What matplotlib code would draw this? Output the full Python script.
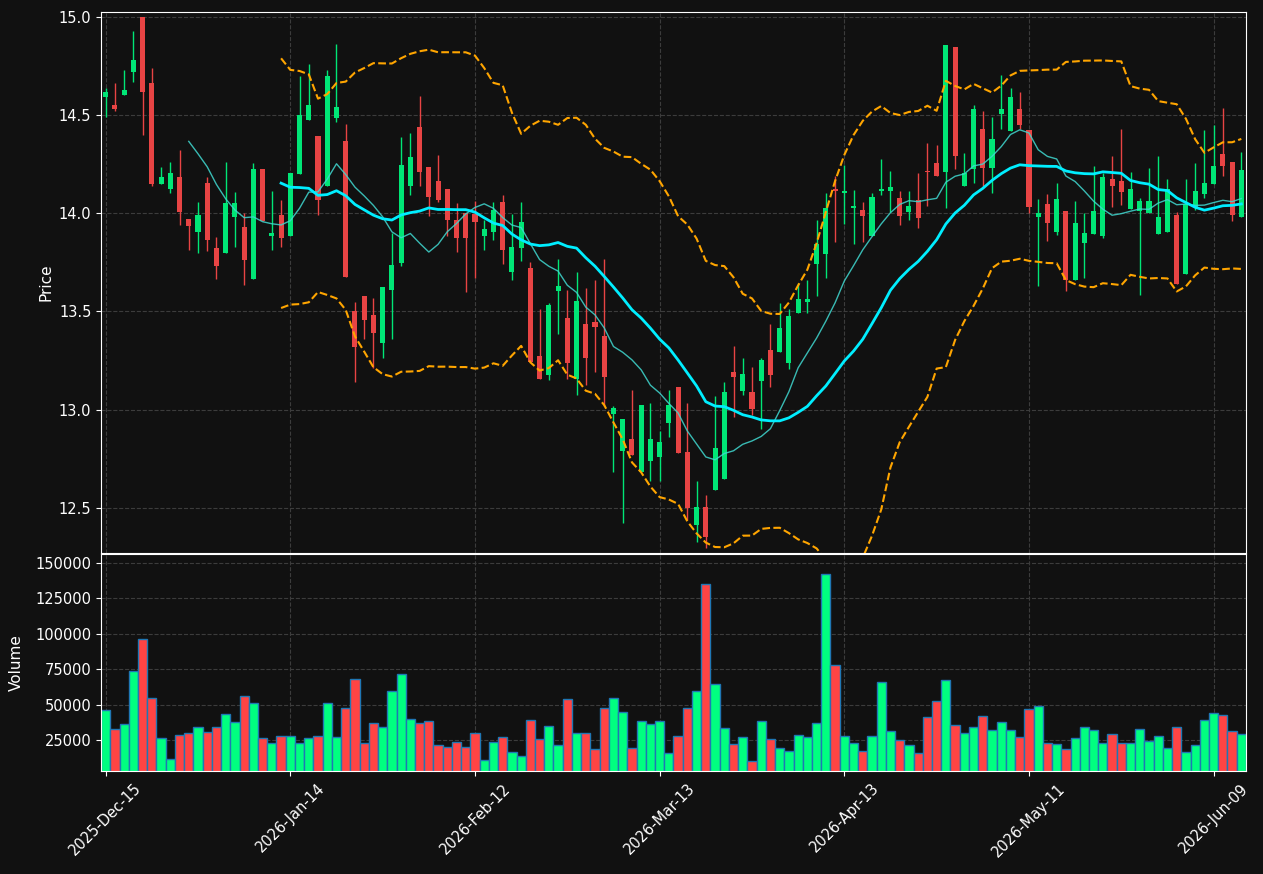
import matplotlib
matplotlib.use('Agg')
import matplotlib.pyplot as plt
import numpy as np
import pandas as pd

# daily bars (trading days from 2025-12-15)
opens = [14.59, 14.55, 14.60, 14.72, 15.00, 14.665, 14.15, 14.125, 14.185, 13.97,
         13.905, 14.155, 13.825, 13.80, 13.98, 13.93, 13.665, 14.225, 13.885, 13.99,
         13.885, 14.20, 14.475, 14.395, 14.14, 14.485, 14.37, 13.50, 13.58, 13.48,
         13.34, 13.61, 13.745, 14.14, 14.44, 14.235, 14.165, 14.125, 13.965, 14.00,
         13.995, 13.885, 13.905, 14.055, 13.70, 13.825, 13.72, 13.275, 13.175, 13.605,
         13.465, 13.155, 13.435, 13.445, 13.375, 12.98, 12.79, 12.85, 12.68, 12.74,
         12.76, 12.93, 13.115, 12.785, 12.415, 12.505, 12.59, 12.645, 13.19, 13.095,
         13.09, 13.145, 13.305, 13.295, 13.235, 13.49, 13.55, 13.74, 13.795, 14.125,
         14.105, 14.025, 14.015, 13.885, 14.115, 14.115, 14.08, 14.005, 14.065, 14.215,
         14.255, 14.21, 14.845, 14.14, 14.225, 14.43, 14.23, 14.505, 14.42, 14.53,
         14.425, 13.98, 14.045, 13.905, 14.01, 13.66, 13.85, 13.895, 13.885, 14.175,
         14.165, 14.02, 14.01, 14.00, 13.895, 13.905, 13.99, 13.69, 14.03, 14.10,
         14.15, 14.30, 14.26, 13.98]
highs = [14.64, 14.665, 14.73, 14.93, 15.00, 14.74, 14.235, 14.26, 14.32, 13.97,
         14.055, 14.185, 13.88, 14.26, 14.11, 14.00, 14.255, 14.225, 14.115, 14.065,
         14.205, 14.70, 14.76, 14.395, 14.73, 14.86, 14.455, 13.55, 13.58, 13.57,
         13.625, 13.90, 14.39, 14.41, 14.595, 14.235, 14.295, 14.125, 14.05, 14.00,
         14.06, 13.965, 14.055, 14.095, 13.995, 14.055, 13.75, 13.51, 13.545, 13.765,
         13.61, 13.70, 13.62, 13.66, 13.765, 13.02, 12.95, 13.10, 13.025, 13.035,
         12.89, 13.10, 13.115, 13.035, 12.635, 12.565, 13.07, 13.14, 13.325, 13.265,
         13.215, 13.265, 13.435, 13.545, 13.51, 13.645, 13.66, 13.965, 14.105, 14.19,
         14.245, 14.12, 14.055, 14.105, 14.275, 14.215, 14.115, 14.115, 14.205, 14.36,
         14.35, 14.855, 14.845, 14.305, 14.55, 14.52, 14.49, 14.705, 14.64, 14.62,
         14.425, 14.075, 14.10, 14.155, 14.01, 14.06, 14.00, 14.24, 14.205, 14.29,
         14.43, 14.21, 14.08, 14.23, 14.29, 14.175, 14.005, 14.175, 14.255, 14.425,
         14.45, 14.535, 14.26, 14.31]
lows = [14.49, 14.52, 14.60, 14.67, 14.40, 14.14, 14.15, 14.105, 13.94, 13.815,
        13.80, 13.81, 13.665, 13.80, 13.83, 13.635, 13.665, 13.96, 13.815, 13.83,
        13.885, 14.20, 14.475, 13.99, 14.14, 14.465, 13.675, 13.14, 13.36, 13.21,
        13.265, 13.36, 13.73, 14.095, 14.14, 13.985, 14.055, 13.885, 13.805, 13.60,
        13.67, 13.815, 13.865, 13.74, 13.66, 13.755, 13.245, 13.155, 13.15, 13.385,
        13.155, 13.075, 13.125, 13.19, 13.02, 12.68, 12.425, 12.77, 12.68, 12.635,
        12.635, 12.86, 12.78, 12.44, 12.325, 12.295, 12.59, 12.645, 12.96, 13.075,
        12.975, 12.90, 13.115, 13.295, 13.205, 13.49, 13.49, 13.58, 13.67, 13.855,
        13.945, 13.845, 13.855, 13.885, 14.095, 14.005, 13.94, 13.965, 13.925, 14.035,
        14.19, 14.025, 14.225, 14.14, 14.155, 14.135, 14.105, 14.43, 14.42, 14.43,
        14.00, 13.63, 13.86, 13.89, 13.605, 13.66, 13.67, 13.895, 13.875, 14.03,
        14.04, 14.02, 13.585, 14.00, 13.895, 13.905, 13.64, 13.69, 14.015, 14.08,
        14.15, 14.19, 13.96, 13.98]
closes = [14.62, 14.53, 14.63, 14.78, 14.62, 14.15, 14.185, 14.205, 14.005, 13.935,
          13.99, 13.865, 13.73, 14.05, 14.05, 13.76, 14.225, 13.96, 13.90, 13.875,
          14.205, 14.50, 14.55, 14.065, 14.70, 14.54, 13.675, 13.32, 13.455, 13.39,
          13.625, 13.735, 14.245, 14.285, 14.21, 14.085, 14.065, 13.965, 13.875, 13.875,
          13.955, 13.92, 14.015, 13.815, 13.83, 13.955, 13.245, 13.155, 13.535, 13.63,
          13.235, 13.555, 13.265, 13.42, 13.165, 13.01, 12.95, 12.77, 13.025, 12.85,
          12.835, 13.025, 12.78, 12.50, 12.505, 12.35, 12.805, 13.09, 13.165, 13.18,
          13.005, 13.255, 13.175, 13.415, 13.475, 13.565, 13.565, 13.845, 14.025, 14.115,
          14.115, 14.035, 13.985, 14.085, 14.125, 14.135, 13.985, 14.035, 13.975, 14.21,
          14.19, 14.855, 14.29, 14.205, 14.53, 14.23, 14.38, 14.53, 14.59, 14.45,
          14.03, 14.00, 13.95, 14.075, 13.66, 13.95, 13.90, 14.01, 14.185, 14.14,
          14.11, 14.125, 14.06, 14.06, 13.98, 14.125, 13.64, 14.045, 14.115, 14.155,
          14.24, 14.24, 13.99, 14.22]
volumes = [46150, 32750, 36280, 73640, 96190, 54600, 26410, 11600, 28520, 29930,
           34160, 30640, 34160, 43330, 37690, 56010, 51080, 26410, 22890, 27820,
           27820, 22890, 26410, 27820, 51080, 27110, 47560, 68000, 22890, 36980,
           34160, 59540, 71520, 39800, 36980, 38390, 21480, 20070, 23590, 20070,
           29930, 10900, 23590, 27110, 16540, 13720, 39100, 25700, 34870, 21480,
           53900, 29930, 29930, 18660, 47560, 54600, 44740, 19360, 38390, 36280,
           38390, 15840, 27820, 47560, 59540, 134960, 64470, 33460, 22180, 27110,
           10200, 38390, 25700, 19360, 17250, 28520, 27110, 36980, 142010, 77870,
           27820, 22890, 17250, 27820, 65880, 31340, 25000, 21480, 15840, 41210,
           52490, 67290, 35570, 29930, 34160, 41920, 32050, 37690, 32050, 27110,
           46850, 48970, 22890, 22180, 18660, 26410, 34160, 32050, 22890, 29230,
           22890, 22890, 32750, 24300, 27820, 19360, 34160, 16540, 21480, 39100,
           44030, 42620, 31340, 29230]
tick_labels = ['2025-Dec-15', '2026-Jan-14', '2026-Feb-12', '2026-Mar-13',
               '2026-Apr-13', '2026-May-11', '2026-Jun-09']

df = pd.DataFrame({'Open': opens, 'High': highs, 'Low': lows,
                   'Close': closes, 'Volume': volumes})
x = np.arange(len(df))
up = df['Close'] >= df['Open']

# indicators
sma10 = df['Close'].rolling(10).mean()
sma20 = df['Close'].rolling(20).mean()
std20 = df['Close'].rolling(20).std()
bb_up = sma20 + 2 * std20
bb_lo = sma20 - 2 * std20

bg = '#111111'
c_up, c_dn = '#00e676', '#e84444'
v_up, v_dn = '#00ff80', '#ff4444'

fig = plt.figure(figsize=(12.63, 8.74), dpi=100, facecolor=bg)
ax = fig.add_axes([0.080, 0.3673, 0.9065, 0.619])
axv = fig.add_axes([0.080, 0.1178, 0.9065, 0.2483], sharex=ax)

for a in (ax, axv):
    a.set_facecolor(bg)
    for s in a.spines.values():
        s.set_color('white')
    a.tick_params(colors='white', labelsize=10.5)
    a.grid(True, color='#3c3c3c', linestyle='--', linewidth=0.8)
    a.set_axisbelow(True)

# candles
body_lo = np.minimum(df['Open'], df['Close'])
body_h = np.maximum((df['Close'] - df['Open']).abs(), 0.006)
colors = np.where(up, c_up, c_dn)
ax.vlines(x, df['Low'], df['High'], colors=colors, linewidth=1, zorder=2)
ax.bar(x, body_h, bottom=body_lo, width=0.55, color=colors, zorder=3)

# moving averages and bands
ax.plot(x, sma10, color='#40d8d0', linewidth=1, alpha=0.85, zorder=4)
ax.plot(x, sma20, color='#00eeff', linewidth=2, zorder=4)
ax.plot(x, bb_up, color='orange', linestyle='--', linewidth=1.5, zorder=4)
ax.plot(x, bb_lo, color='orange', linestyle='--', linewidth=1.5, zorder=4)

ax.set_ylim(12.27, 15.025)
ax.set_ylabel('Price', color='white', fontsize=11)
ax.tick_params(axis='x', labelbottom=False)

# volume
axv.bar(x, df['Volume'], width=1.0, color=np.where(up, v_up, v_dn),
        edgecolor='#1f77b4', linewidth=1)
axv.set_ylim(3400, 156300)
axv.set_yticks([25000, 50000, 75000, 100000, 125000, 150000])
axv.set_ylabel('Volume', color='white', fontsize=11, labelpad=8)

axv.set_xlim(-0.5, len(df) - 0.5)
axv.set_xticks(x[::20])
axv.set_xticklabels(tick_labels, rotation=45)

fig.savefig('out.png', dpi=100, facecolor=bg)
